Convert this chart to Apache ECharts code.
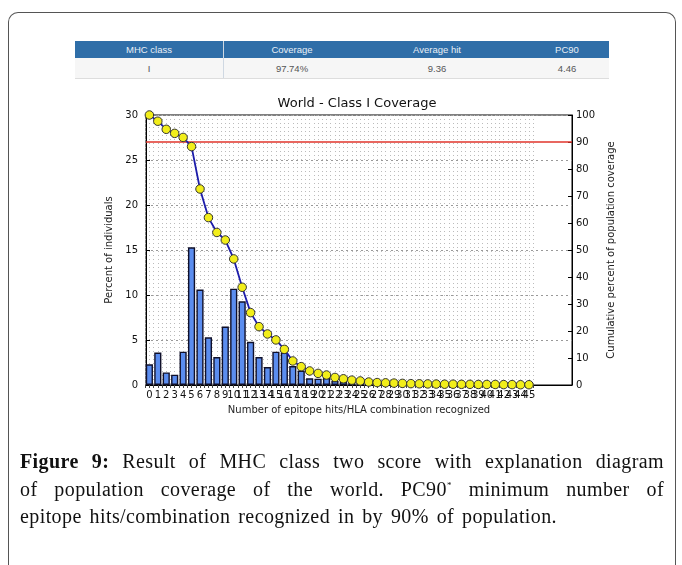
<!DOCTYPE html>
<html>
<head>
<meta charset="utf-8">
<script src="https://cdn.jsdelivr.net/npm/echarts@6/dist/echarts.min.js"></script>
<style>
  html, body { margin: 0; padding: 0; background: #fff; }
  #page { position: relative; width: 682px; height: 565px; overflow: hidden; background: #fff; }
  #frame { position: absolute; left: 8px; top: 12px; width: 666px; height: 600px;
           border-left: 1.5px solid #555; border-top: 1.5px solid #555; border-right: 1.5px solid #555;
           border-top-left-radius: 10px; border-top-right-radius: 10px; }
  #chart { position: absolute; left: 0; top: 0; width: 682px; height: 565px; }
  .thead { position: absolute; left: 75px; top: 41px; width: 534px; height: 17px; background: #2f6ea8; }
  .trow { position: absolute; left: 75px; top: 58px; width: 534px; height: 20px; background: #f6f6f6;
          border-bottom: 1px solid #ddd; }
  .sep { position: absolute; width: 1px; background: #cfd8e2; }
  .cell { position: absolute; transform: translateX(-50%); font-family: "Liberation Sans", Arial, sans-serif;
          font-size: 9.5px; white-space: nowrap; }
  .hcell { color: #e8eef6; top: 44px; }
  .rcell { color: #555; top: 63px; }
  #caption { position: absolute; left: 20px; top: 448px; width: 644px; font-family: "Liberation Serif", "DejaVu Serif", serif;
             font-size: 20px; letter-spacing: 0.4px; line-height: 27.5px; color: #111; }
  #caption .ln { white-space: nowrap; text-align: justify; text-align-last: justify; }
  #caption .ln3 { display: inline-block; width: 537px; }
  #caption b { font-weight: bold; }
  #caption sup { font-size: 9px; vertical-align: 8px; line-height: 0; }
</style>
</head>
<body>
<div id="page">
  <div id="frame"></div>
  <div id="tbl"></div>
  <div id="chart"></div>
  <div id="caption">
    <div class="ln"><b>Figure 9:</b> Result of MHC class two score with explanation diagram</div>
    <div class="ln">of population coverage of the world. PC90<sup>*</sup> minimum number of</div>
    <div class="ln ln3">epitope hits/combination recognized in by 90% of population.</div>
  </div>
</div>
<script>
// ---- table data ----
const tableHeaders = ["MHC class", "Coverage", "Average hit", "PC90"];
const tableValues = ["I", "97.74%", "9.36", "4.46"];

// ---- chart data ----
const categories = [0,1,2,3,4,5,6,7,8,9,10,11,12,13,14,15,16,17,18,19,20,21,22,23,24,25,26,27,28,29,30,31,32,33,34,35,36,37,38,39,40,41,42,43,44,45];
const percentIndividuals = [2.3,3.6,1.4,1.15,3.7,15.3,10.6,5.3,3.1,6.5,10.7,9.3,4.8,3.1,2.0,3.7,3.6,2.1,1.6,0.75,0.7,0.8,0.45,0.4,0.35,0.3,0.25,0.2,0.15,0.1,0.1,0.05,0.05,0.05,0,0,0,0,0,0,0,0,0,0,0,0];
const cumulativeCoverage = [100,97.7,94.7,93.2,91.7,88.3,72.6,62.0,56.5,53.7,46.7,36.2,26.8,21.6,18.9,16.7,13.2,8.9,6.8,5.2,4.3,3.7,2.8,2.3,1.8,1.5,1.1,0.9,0.8,0.7,0.6,0.5,0.45,0.4,0.35,0.3,0.3,0.25,0.25,0.2,0.2,0.2,0.15,0.15,0.1,0.1];
const leftTicks = [0,5,10,15,20,25,30];
const rightTicks = [0,10,20,30,40,50,60,70,80,90,100];
const threshold = 90;

// ---- build table ----
(function(){
  const tbl = document.getElementById('tbl');
  const centers = [149, 292, 437, 567];
  let html = '<div class="thead"></div><div class="trow"></div>';
  html += '<div class="sep" style="left:223px;top:41px;height:37px;"></div>';
  tableHeaders.forEach((h,i)=>{ html += `<div class="cell hcell" style="left:${centers[i]}px">${h}</div>`; });
  tableValues.forEach((v,i)=>{ html += `<div class="cell rcell" style="left:${centers[i]}px">${v}</div>`; });
  tbl.innerHTML = html;
})();

const chart = echarts.init(document.getElementById('chart'), null, {renderer: 'canvas'});
const font = 'DejaVu Sans';
const unitPx = 426 / 50.5;
const gridBLeft = 146 + 0.4 * unitPx - 0.5 * unitPx;
const gridBWidth = 46 * unitPx;

const option = {
  backgroundColor: 'transparent',
  animation: false,
  textStyle: { fontFamily: font },
  title: {
    text: 'World - Class I Coverage', left: 352, top: 92, textAlign: 'center',
    textStyle: { fontFamily: font, fontSize: 13, fontWeight: 'normal', color: '#111' }
  },
  grid: [
    { left: 146, top: 115, width: 426, height: 270, show: true, borderColor: '#000', borderWidth: 1, backgroundColor: 'transparent' },
    { left: gridBLeft, top: 115, width: gridBWidth, height: 270 }
  ],
  xAxis: [
    { gridIndex: 0, type: 'value', min: 0, max: 1, axisLabel: { show: false }, axisTick: { show: false }, splitLine: { show: false },
      axisLine: { show: true, lineStyle: { color: '#000' } },
      name: 'Number of epitope hits/HLA combination recognized', nameLocation: 'middle', nameGap: 20,
      nameTextStyle: { fontFamily: font, fontSize: 10, color: '#222' } },
    { gridIndex: 1, type: 'value', min: -0.5, max: 45.5, interval: 0.5,
      axisLine: { show: false }, axisTick: { show: false },
      axisLabel: { show: true, margin: 5, fontFamily: font, fontSize: 10, color: '#111',
        showMinLabel: true, showMaxLabel: true,
        formatter: v => (Number.isInteger(v) && v >= 0) ? String(v) : '' },
      splitLine: { show: true, lineStyle: { color: '#bbb', type: [1, 3], width: 1 } } },
    { gridIndex: 1, type: 'value', position: 'top', min: -0.5, max: 45.5, interval: 0.5,
      axisLine: { show: false }, axisLabel: { show: false }, splitLine: { show: false },
      axisTick: { show: true, inside: true, length: 3, lineStyle: { color: '#444' } } }
  ],
  yAxis: [
    { gridIndex: 0, type: 'value', min: leftTicks[0], max: leftTicks[leftTicks.length-1], interval: 5, position: 'left',
      axisLine: { show: true, lineStyle: { color: '#000' } },
      axisTick: { show: true, inside: true, length: 4, lineStyle: { color: '#000' } },
      axisLabel: { margin: 8, fontFamily: font, fontSize: 10, color: '#111' },
      splitLine: { show: true, lineStyle: { color: '#999', type: [2, 3], width: 1 } },
      name: 'Percent of individuals', nameLocation: 'middle', nameGap: 25, nameRotate: 90,
      nameTextStyle: { fontFamily: font, fontSize: 10, color: '#222' } },
    { gridIndex: 0, type: 'value', min: rightTicks[0], max: rightTicks[rightTicks.length-1], interval: 10, position: 'right',
      axisLine: { show: true, lineStyle: { color: '#000' } },
      axisTick: { show: true, inside: true, length: 4, lineStyle: { color: '#000' } },
      axisLabel: { margin: 4, fontFamily: font, fontSize: 10, color: '#111' },
      splitLine: { show: false },
      name: 'Cumulative percent of population coverage', nameLocation: 'middle', nameGap: 24, nameRotate: 90,
      nameTextStyle: { fontFamily: font, fontSize: 10, color: '#222' } },
    { gridIndex: 1, type: 'value', min: 0, max: 30, show: false },
    { gridIndex: 1, type: 'value', min: 0, max: 100, show: false }
  ],
  series: [
    { type: 'line', xAxisIndex: 0, yAxisIndex: 1, data: [], symbol: 'none', silent: true,
      markLine: { silent: true, symbol: 'none', label: { show: false },
        lineStyle: { color: '#e0352b', width: 1.5, type: 'solid' },
        data: [{ yAxis: threshold }] } },
    { type: 'bar', xAxisIndex: 1, yAxisIndex: 2, barWidth: 0.85 * unitPx,
      data: categories.map((c, i) => [c, percentIndividuals[i]]),
      itemStyle: { color: '#5b8def', borderColor: '#10102a', borderWidth: 1.4 } },
    { type: 'line', xAxisIndex: 1, yAxisIndex: 3, clip: false,
      data: categories.map((c, i) => [c, cumulativeCoverage[i]]),
      symbol: 'circle', symbolSize: 8.5,
      itemStyle: { color: '#f2ee1a', borderColor: '#333', borderWidth: 1 },
      lineStyle: { color: '#1c1caa', width: 1.8 }, z: 5 }
  ]
};
chart.setOption(option);
</script>
</body>
</html>
